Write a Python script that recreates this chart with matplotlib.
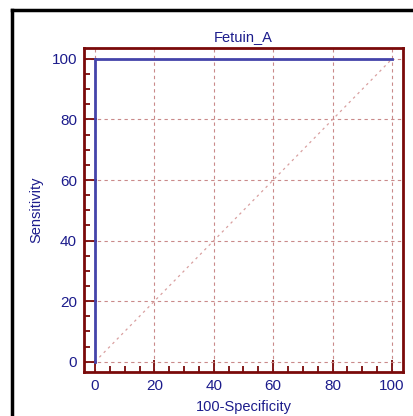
import matplotlib
matplotlib.use("Agg")
import matplotlib.pyplot as plt
from matplotlib.lines import Line2D
from matplotlib.ticker import MultipleLocator

# ROC curve points (100-Specificity, Sensitivity)
fpr = [0, 0, 100]
tpr = [0, 100, 100]
ticks = [0, 20, 40, 60, 80, 100]
title = "Fetuin_A"

navy = "#1c1c8c"
spine_red = "#7a0a0a"
grid_col = "#c98a8a"

plt.rcParams['font.family'] = ['Liberation Sans', 'DejaVu Sans']

fig = plt.figure(figsize=(4.14, 4.16), dpi=100)
ax = fig.add_axes([84 / 414, 1 - 372 / 416, (403 - 84) / 414, (372 - 48) / 416])

ax.plot([0, 100], [0, 100], color="#d9a0a0", lw=0.9, ls=(0, (2, 3)), zorder=2)
ax.plot(fpr, tpr, color="#4444aa", lw=2, zorder=3, solid_joinstyle="miter")

ax.set_xlim(-3.7, 103.7)
ax.set_ylim(-3.4, 103.6)
ax.set_xticks(ticks)
ax.set_yticks(ticks)
ax.xaxis.set_minor_locator(MultipleLocator(5))
ax.yaxis.set_minor_locator(MultipleLocator(5))
ax.grid(True, which="major", color=grid_col, ls=(0, (3, 3)), lw=0.8)

for s in ax.spines.values():
    s.set_color(spine_red)
    s.set_linewidth(2)

ax.tick_params(which="both", direction="in", color=spine_red, labelcolor=navy,
               labelsize=11, width=1.3)
ax.tick_params(which="major", length=9, pad=5)
ax.tick_params(which="minor", length=4.5)

ax.set_title(title, color=navy, fontsize=10.5, pad=5)
ax.set_xlabel("100-Specificity", color=navy, fontsize=10.5, labelpad=5)
ax.set_ylabel("Sensitivity", color=navy, fontsize=10.5, labelpad=6)

# outer black frame
fig.add_artist(Line2D([12 / 414, 12 / 414], [0, 1 - 10 / 416], color="black", lw=2.5,
                      transform=fig.transFigure))
fig.add_artist(Line2D([12 / 414, 1], [1 - 10 / 416, 1 - 10 / 416], color="black", lw=2.5,
                      transform=fig.transFigure))

fig.savefig("out.png", dpi=100)
